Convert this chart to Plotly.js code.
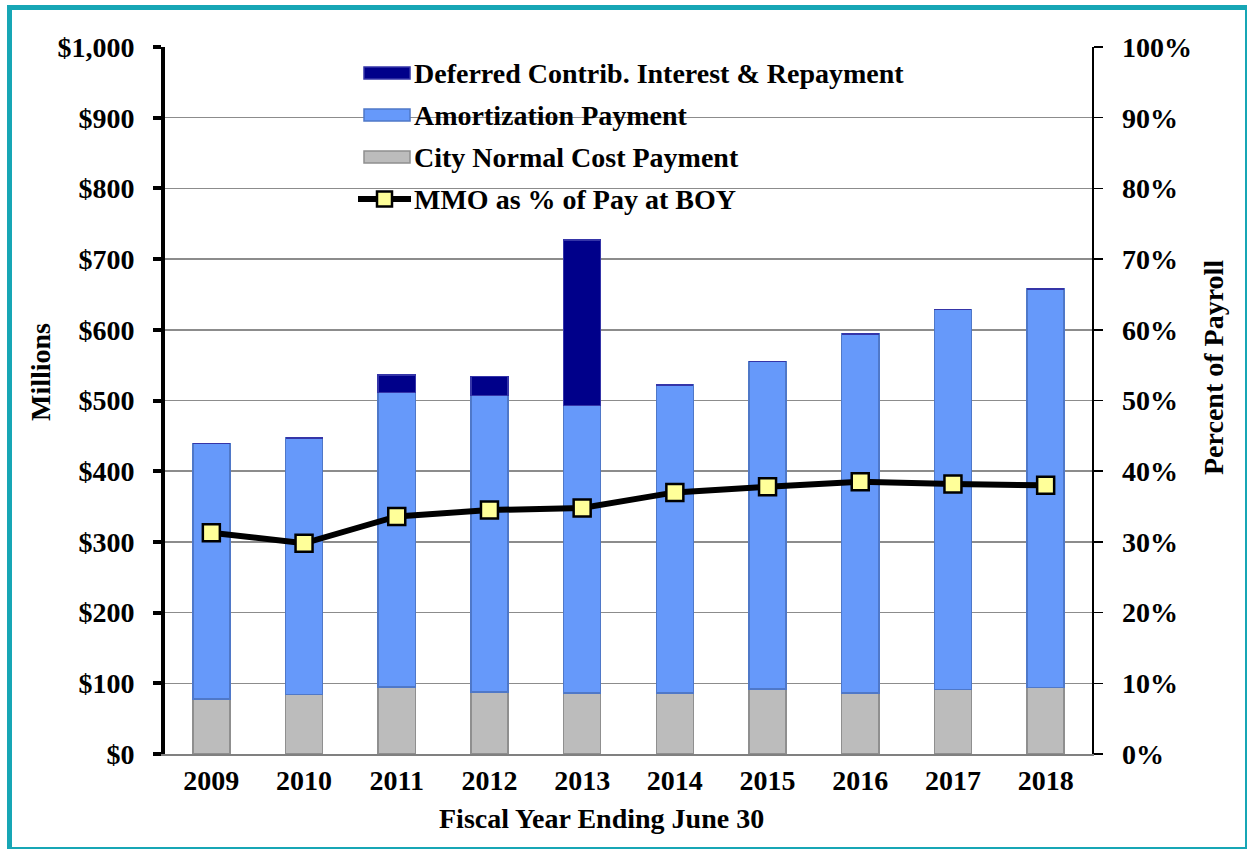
<!DOCTYPE html>
<html>
<head>
<meta charset="utf-8">
<script src="https://cdn.plot.ly/plotly-3.0.1.min.js"></script>
<style>
  html, body { margin: 0; padding: 0; background: #fff; }
  #wrap { position: relative; width: 1249px; height: 852px; }
  #chart { position: absolute; left: 0; top: 0; width: 1249px; height: 852px; }
  #frame { position: absolute; left: 7px; top: 5px; width: 1240px; height: 844px;
           border-top: 5px solid #17a6b5; border-left: 5px solid #17a6b5;
           border-right: 2px solid #17a6b5; border-bottom: 2px solid #17a6b5;
           box-sizing: border-box; pointer-events: none; }
</style>
</head>
<body>
<div id="wrap">
  <div id="chart"></div>
  <div id="frame"></div>
</div>
<script>
// ---- data ----
const years = ['2009','2010','2011','2012','2013','2014','2015','2016','2017','2018'];
const normalCost   = [78, 84, 95, 88, 86, 86, 92, 86, 91, 94];          // $ millions
const amortization = [361, 363, 416, 419, 407, 436, 463, 508, 538, 564]; // $ millions
const deferred     = [0, 0, 25, 27, 234, 0, 0, 0, 0, 0];                 // $ millions
const mmoPctPay    = [31.3, 29.8, 33.6, 34.5, 34.8, 37.0, 37.8, 38.5, 38.2, 38.0]; // % of pay

const legendNames = [
  'Deferred Contrib. Interest & Repayment',
  'Amortization Payment',
  'City Normal Cost Payment',
  'MMO as % of Pay at BOY'
];
const xTitle = 'Fiscal Year Ending June 30';
const yTitle = 'Millions';
const y2Title = 'Percent of Payroll';

const FONT = 'Liberation Serif, Times New Roman, serif';
const C_GRAY = '#bcbcbc', C_GRAY_L = '#8f8f8f';
const C_BLUE = '#6699fa', C_BLUE_L = '#4f78c8';
const C_NAVY = '#00008a', C_NAVY_L = '#3535a8';

const traces = [
  { type: 'bar', x: years, y: normalCost, name: legendNames[2],
    marker: { color: C_GRAY, line: { color: C_GRAY_L, width: 1.5 } } },
  { type: 'bar', x: years, y: amortization, name: legendNames[1],
    marker: { color: C_BLUE, line: { color: C_BLUE_L, width: 1.5 } } },
  { type: 'bar', x: years, y: deferred, name: legendNames[0],
    marker: { color: C_NAVY, line: { color: C_NAVY_L, width: 1.5 } } },
  { type: 'scatter', mode: 'lines+markers', x: years, y: mmoPctPay, yaxis: 'y2',
    name: legendNames[3],
    line: { color: '#000', width: 6 },
    marker: { symbol: 'square', size: 17, color: '#ffff99', line: { color: '#000', width: 2.5 } } }
];

// plot area in pixels: x 165..1092, y 47..754
const L = 165, R = 1092, T = 47, B = 754;
const px = v => (v - L) / (R - L);
const py = v => (B - v) / (B - T);

const tickFont = { family: FONT, size: 28, color: '#000', weight: 'bold' };
const titleFont = { family: FONT, size: 28, color: '#000', weight: 'bold' };

const legendRows = [73, 115, 157, 199];
const legendColors = [[C_NAVY, C_NAVY_L], [C_BLUE, C_BLUE_L], [C_GRAY, C_GRAY_L]];
const shapes = [];
const annotations = [];
for (let i = 0; i < 3; i++) {
  shapes.push({ type: 'rect', xref: 'paper', yref: 'paper',
    x0: px(364), x1: px(410), y0: py(legendRows[i] + 6), y1: py(legendRows[i] - 6),
    fillcolor: legendColors[i][0], line: { color: legendColors[i][1], width: 1.5 } });
}
shapes.push({ type: 'line', xref: 'paper', yref: 'paper',
  x0: px(358), x1: px(411), y0: py(legendRows[3]), y1: py(legendRows[3]),
  line: { color: '#000', width: 6 } });
shapes.push({ type: 'rect', xref: 'paper', yref: 'paper',
  x0: px(377), x1: px(392), y0: py(legendRows[3] + 7.5), y1: py(legendRows[3] - 7.5),
  fillcolor: '#ffff99', line: { color: '#000', width: 2.5 } });
for (let i = 0; i < 4; i++) {
  annotations.push({ xref: 'paper', yref: 'paper', x: px(412), y: py(legendRows[i]),
    xanchor: 'left', yanchor: 'middle', showarrow: false, text: legendNames[i],
    font: titleFont });
}
// axis titles placed where the reference has them
annotations.push({ xref: 'paper', yref: 'paper', x: px(601), y: py(818),
  xanchor: 'center', yanchor: 'middle', showarrow: false, text: xTitle, font: titleFont });
annotations.push({ xref: 'paper', yref: 'paper', x: px(40), y: py(372),
  xanchor: 'center', yanchor: 'middle', showarrow: false, text: yTitle, font: titleFont,
  textangle: -90 });
annotations.push({ xref: 'paper', yref: 'paper', x: px(1213), y: py(368),
  xanchor: 'center', yanchor: 'middle', showarrow: false, text: y2Title, font: titleFont,
  textangle: -90 });

const layout = {
  width: 1249, height: 852,
  margin: { l: L, r: 1249 - R, t: T, b: 852 - B, pad: 0 },
  paper_bgcolor: '#fff', plot_bgcolor: '#fff',
  barmode: 'stack', bargap: 0.6,
  showlegend: false,
  font: { family: FONT, color: '#000' },
  xaxis: {
    type: 'category', range: [-0.5, 9.5], autorange: false,
    showgrid: false, zeroline: false,
    showline: true, linecolor: '#808080', linewidth: 1.5,
    ticks: '', tickfont: tickFont, ticklabelstandoff: 1
  },
  yaxis: {
    range: [0, 1000], dtick: 100, tickprefix: '$', tickformat: ',d',
    showgrid: true, gridcolor: '#8c8c8c', gridwidth: 1.5, zeroline: false,
    showline: true, linecolor: '#000', linewidth: 4,
    ticks: 'outside', ticklen: 8, tickwidth: 4, tickcolor: '#000',
    tickfont: tickFont, ticklabelstandoff: 13
  },
  yaxis2: {
    overlaying: 'y', side: 'right', range: [0, 100], dtick: 10, ticksuffix: '%',
    showgrid: false, zeroline: false,
    showline: true, linecolor: '#000', linewidth: 1.5,
    ticks: 'outside', ticklen: 9, tickwidth: 1.5, tickcolor: '#000',
    tickfont: tickFont, ticklabelstandoff: 14
  },
  shapes: shapes,
  annotations: annotations
};

Plotly.newPlot('chart', traces, layout, { staticPlot: true, displayModeBar: false });
</script>
</body>
</html>
